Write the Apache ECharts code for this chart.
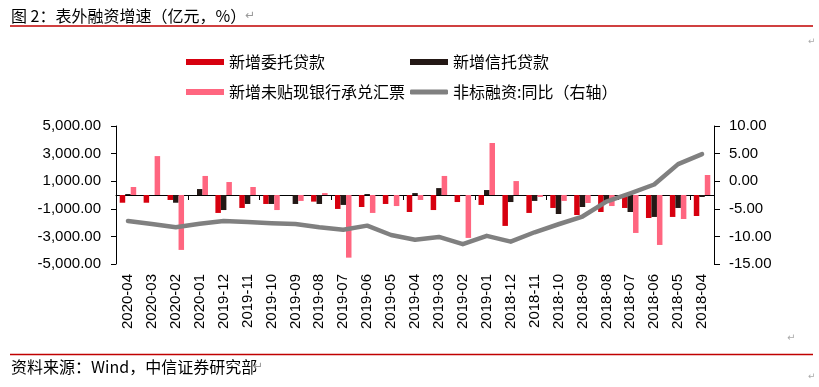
<!DOCTYPE html>
<html>
<head>
<meta charset="utf-8">
<script src="https://cdn.jsdelivr.net/npm/echarts@6/dist/echarts.min.js"></script>
<style>
html,body{margin:0;padding:0;background:#fff;}
#c{width:819px;height:387px;}
</style>
</head>
<body>
<div id="c"></div>
<script>
const categories = ['2020-04','2020-03','2020-02','2020-01','2019-12','2019-11','2019-10','2019-09','2019-08','2019-07','2019-06','2019-05','2019-04','2019-03','2019-02','2019-01','2018-12','2018-11','2018-10','2018-09','2018-08','2018-07','2018-06','2018-05','2018-04'];
const entrustLoans = [-560,-560,-360,0,-1300,-940,-650,0,-480,-1010,-870,-650,-1230,-1090,-510,-720,-2240,-1300,-940,-1450,-1230,-940,-1665,-1590,-1520];
const trustLoans = [70,0,-560,430,-1090,-650,-650,-650,-650,-720,70,0,140,500,0,360,-510,-430,-1375,-870,-430,-1230,-1590,-940,-145];
const bankAcceptance = [580,2820,-3980,1380,940,580,-1090,-430,140,-4540,-1300,-800,-360,1380,-3110,3770,1010,-145,-430,-580,-800,-2750,-3620,-1740,1450];
const nonStandardYoY = [-7.2,-7.75,-8.35,-7.7,-7.2,-7.4,-7.6,-7.75,-8.35,-8.8,-8.05,-9.75,-10.6,-10.1,-11.4,-9.9,-10.95,-9.25,-7.8,-6.4,-3.7,-2.2,-0.6,3.1,4.9];

const names = ['新增委托贷款','新增信托贷款','新增未贴现银行承兑汇票','非标融资:同比（右轴）'];
const colors = ['#D7000F','#231815','#FF6680','#808080'];
const numFont = 'Liberation Sans, Arial, sans-serif';
const cjkFont = 'Noto Sans CJK SC, sans-serif';

function legendAt(name, left, top, icon, h) {
  return {
    data: [{name: name, icon: icon}],
    left: left, top: top, padding: 0,
    itemWidth: 38, itemHeight: h,
    textStyle: {fontSize: 16, color: '#000', fontFamily: cjkFont},
    selectedMode: false
  };
}

const chart = echarts.init(document.getElementById('c'));
chart.setOption({
  animation: false,
  backgroundColor: '#fff',
  color: colors,
  grid: {left: 116, right: 105, top: 126, bottom: 123, containLabel: false},
  legend: [
    legendAt(names[0], 186, 54, 'rect', 6),
    legendAt(names[1], 410, 54, 'rect', 6),
    legendAt(names[2], 186, 84, 'rect', 6),
    legendAt(names[3], 410, 84, 'roundRect', 5)
  ],
  xAxis: [
    {
      type: 'category', data: categories, position: 'bottom',
      axisLine: {show: false, onZero: false},
      axisTick: {show: false},
      axisLabel: {rotate: 90, margin: 10, fontSize: 15, color: '#000', fontFamily: numFont, interval: 0}
    },
    {
      type: 'category', data: categories, position: 'bottom',
      axisLine: {show: true, onZero: true, onZeroAxisIndex: 1, lineStyle: {color: '#000', width: 1}},
      axisTick: {show: true, length: 5, lineStyle: {color: '#000'}},
      axisLabel: {show: false}
    }
  ],
  yAxis: [
    {
      type: 'value', position: 'right', min: -15, max: 10, interval: 5,
      splitLine: {show: false},
      axisLine: {show: true, onZero: false, lineStyle: {color: '#000'}},
      axisTick: {show: true, length: 6, lineStyle: {color: '#000'}},
      axisLabel: {margin: 15, fontSize: 15, color: '#000', fontFamily: numFont,
        formatter: v => v.toFixed(2)}
    },
    {
      type: 'value', position: 'left', min: -5000, max: 5000, alignTicks: true,
      splitLine: {show: false},
      axisLine: {show: true, onZero: false, lineStyle: {color: '#000'}},
      axisTick: {show: true, length: 5, lineStyle: {color: '#000'}},
      axisLabel: {margin: 15, fontSize: 15, color: '#000', fontFamily: numFont,
        formatter: v => v.toLocaleString('en-US', {minimumFractionDigits: 2, maximumFractionDigits: 2})}
    }
  ],
  series: [
    {name: names[0], type: 'bar', xAxisIndex: 0, yAxisIndex: 1, data: entrustLoans, barWidth: 5.5, barGap: '0%', itemStyle: {color: colors[0]}},
    {name: names[1], type: 'bar', xAxisIndex: 0, yAxisIndex: 1, data: trustLoans, barWidth: 5.5, barGap: '0%', itemStyle: {color: colors[1]}},
    {name: names[2], type: 'bar', xAxisIndex: 0, yAxisIndex: 1, data: bankAcceptance, barWidth: 5.5, barGap: '0%', itemStyle: {color: colors[2]}},
    {name: names[3], type: 'line', xAxisIndex: 0, yAxisIndex: 0, data: nonStandardYoY, symbol: 'none', z: 5,
      lineStyle: {color: colors[3], width: 4.5, cap: 'round', join: 'round'}, itemStyle: {color: colors[3]}}
  ],
  graphic: [
    {type: 'text', left: 11, top: 8, style: {text: '图 2：表外融资增速（亿元，%）', fontSize: 16, fill: '#000', fontFamily: cjkFont}},
    {type: 'text', left: 245, top: 10, style: {text: '↵', fontSize: 12, fill: '#999', fontFamily: 'DejaVu Sans'}},
    {type: 'line', shape: {x1: 10, y1: 26, x2: 813, y2: 26}, style: {stroke: '#C00000', lineWidth: 1.5}},
    {type: 'text', left: 808, top: 37, style: {text: '↵', fontSize: 9, fill: '#aaa', fontFamily: 'DejaVu Sans'}},
    {type: 'text', left: 787, top: 333, style: {text: '↵', fontSize: 10, fill: '#aaa', fontFamily: 'DejaVu Sans'}},
    {type: 'line', shape: {x1: 10, y1: 354.5, x2: 813, y2: 354.5}, style: {stroke: '#C00000', lineWidth: 1.5}},
    {type: 'text', left: 11, top: 359, style: {text: '资料来源：Wind，中信证券研究部', fontSize: 16, fill: '#000', fontFamily: cjkFont}},
    {type: 'text', left: 253, top: 361, style: {text: '↵', fontSize: 12, fill: '#999', fontFamily: 'DejaVu Sans'}},
    {type: 'text', left: 808, top: 372, style: {text: '↵', fontSize: 9, fill: '#aaa', fontFamily: 'DejaVu Sans'}}
  ]
});
</script>
</body>
</html>
